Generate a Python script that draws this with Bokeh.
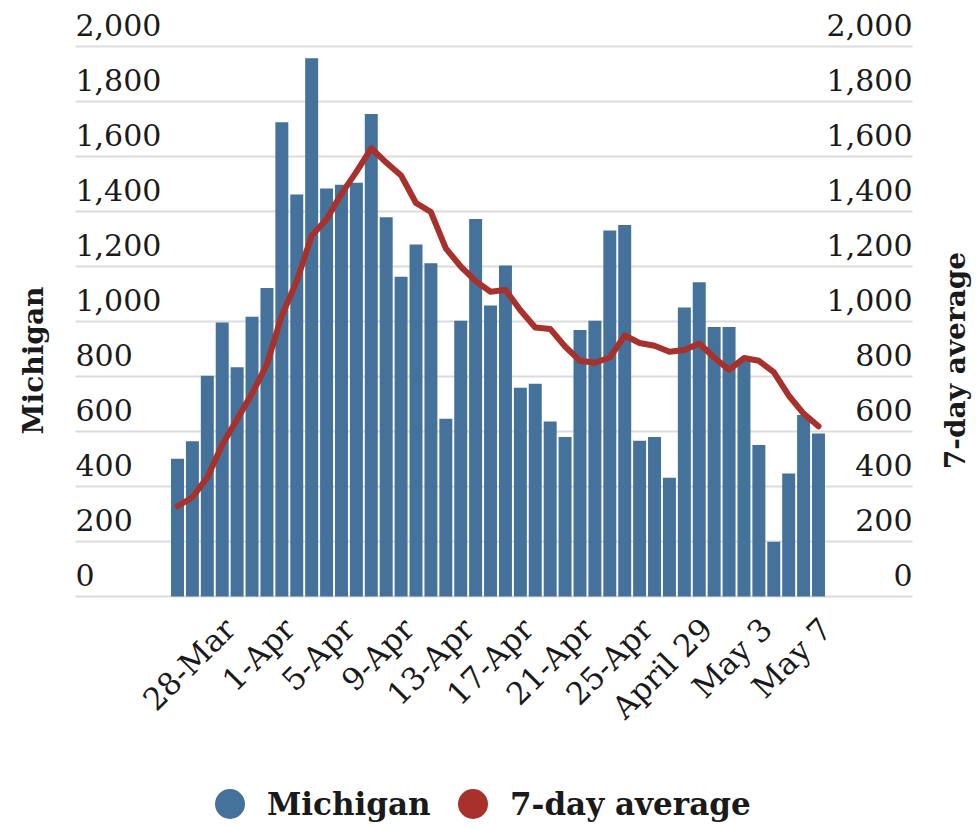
import math
from bokeh.plotting import figure
from bokeh.models import Range1d, Legend, LegendItem, ColumnDataSource
from bokeh.core.properties import value
from bokeh.embed import file_html
from bokeh.resources import INLINE

# ---------------- data ----------------
day_index = list(range(44))  # 25-Mar ... 7-May
michigan = [501, 565, 803, 996, 834, 1017, 1122, 1725, 1462, 1957,
            1484, 1497, 1505, 1755, 1379, 1163, 1280, 1212, 646, 1003,
            1373, 1058, 1204, 759, 774, 636, 580, 969, 1003, 1331,
            1351, 566, 580, 432, 1051, 1143, 980, 980, 859, 551,
            199, 447, 660, 593]
avg7 = [328, 361, 433, 552, 645, 738, 844, 1022, 1147, 1312,
        1372, 1465, 1544, 1630, 1578, 1531, 1431, 1398, 1266, 1200,
        1147, 1108, 1115, 1041, 978, 973, 909, 857, 850, 869,
        949, 922, 912, 890, 896, 920, 869, 824, 867, 857,
        816, 731, 665, 619]
tick_index = [3, 7, 11, 15, 19, 23, 27, 31, 35, 39, 43]
tick_labels = ["28-Mar", "1-Apr", "5-Apr", "9-Apr", "13-Apr", "17-Apr",
               "21-Apr", "25-Apr", "April 29", "May 3", "May 7"]
y_ticks = [0, 200, 400, 600, 800, 1000, 1200, 1400, 1600, 1800, 2000]
y_tick_labels = ["0", "200", "400", "600", "800", "1,000", "1,200",
                 "1,400", "1,600", "1,800", "2,000"]

# ---------------- layout ----------------
W, H = 975, 826
X0_PX, X_STEP = 177.0, 14.907      # pixel of first bar centre, pixel per day
Y0_PX, Y_SCALE = 596.0, 0.275      # pixel of zero line, pixel per unit

def xd(px):
    return (px - X0_PX) / X_STEP

def yd(py):
    return (Y0_PX - py) / Y_SCALE

FONT = "DejaVu Serif"
BAR_COLOR = "#44729a"
LINE_COLOR = "#a8312b"
TEXT_COLOR = "#1a1a1a"

p = figure(width=W, height=H, output_backend="svg", toolbar_location=None,
           x_range=Range1d(xd(0), xd(W)), y_range=Range1d(yd(H), yd(0)),
           x_axis_location=None, y_axis_location=None, min_border=0,
           outline_line_color=None)
p.grid.visible = False
p.background_fill_color = "white"

# grid lines
grid_left, grid_right = xd(75), xd(912)
p.segment(x0=[grid_left] * len(y_ticks), x1=[grid_right] * len(y_ticks),
          y0=y_ticks, y1=y_ticks, line_color="#dcdcdc", line_width=2)

# y tick labels (left and right), sitting above grid lines
lab_off = 22 / Y_SCALE
ysrc = ColumnDataSource(dict(y=[v + lab_off for v in y_ticks], t=y_tick_labels))
p.text(x=grid_left, y="y", text="t", source=ysrc, text_align="left",
       text_baseline="middle", text_font=value(FONT),
       text_font_size="30px", text_color=TEXT_COLOR)
p.text(x=grid_right, y="y", text="t", source=ysrc, text_align="right",
       text_baseline="middle", text_font=value(FONT),
       text_font_size="30px", text_color=TEXT_COLOR)

# bars and line
bars = p.vbar(x=day_index, top=michigan, width=0.87, fill_color=BAR_COLOR,
              line_color=None)
line = p.line(x=day_index, y=avg7, line_color=LINE_COLOR, line_width=6,
              line_join="round", line_cap="round")

# x tick labels (rotated)
xsrc = ColumnDataSource(dict(x=[i + 0.5 for i in tick_index],
                             y=[yd(Y0_PX + 27)] * len(tick_index),
                             t=tick_labels))
p.text(x="x", y="y", text="t", source=xsrc, angle=math.pi / 4,
       text_align="right", text_baseline="middle", text_font=value(FONT),
       text_font_size="31px", text_color=TEXT_COLOR)

# axis titles
p.text(x=[xd(33)], y=[yd(360)], text=["Michigan"], angle=math.pi / 2,
       text_align="center", text_baseline="middle", text_font=value(FONT),
       text_font_style="bold", text_font_size="28px", text_color=TEXT_COLOR)
p.text(x=[xd(955)], y=[yd(360)], text=["7-day average"], angle=math.pi / 2,
       text_align="center", text_baseline="middle", text_font=value(FONT),
       text_font_style="bold", text_font_size="28px", text_color=TEXT_COLOR)

# legend with circle markers (dummy renderers that draw nothing in the plot)
nan = float("nan")
dot1 = p.scatter(x=[nan], y=[nan], marker="circle", size=30,
                 fill_color=BAR_COLOR, line_color=None)
dot2 = p.scatter(x=[nan], y=[nan], marker="circle", size=30,
                 fill_color=LINE_COLOR, line_color=None)
legend = Legend(items=[LegendItem(label="Michigan", renderers=[dot1]),
                       LegendItem(label="7-day average", renderers=[dot2])],
                orientation="horizontal", location=(192, -15),
                glyph_width=75, glyph_height=75, label_standoff=-4,
                label_width=168, spacing=0, padding=0, margin=0,
                border_line_alpha=0, background_fill_alpha=0,
                label_text_font=FONT, label_text_font_style="bold",
                label_text_font_size="31px", label_text_color=TEXT_COLOR)
p.add_layout(legend)

open("out.html", "w").write(file_html(p, INLINE))
